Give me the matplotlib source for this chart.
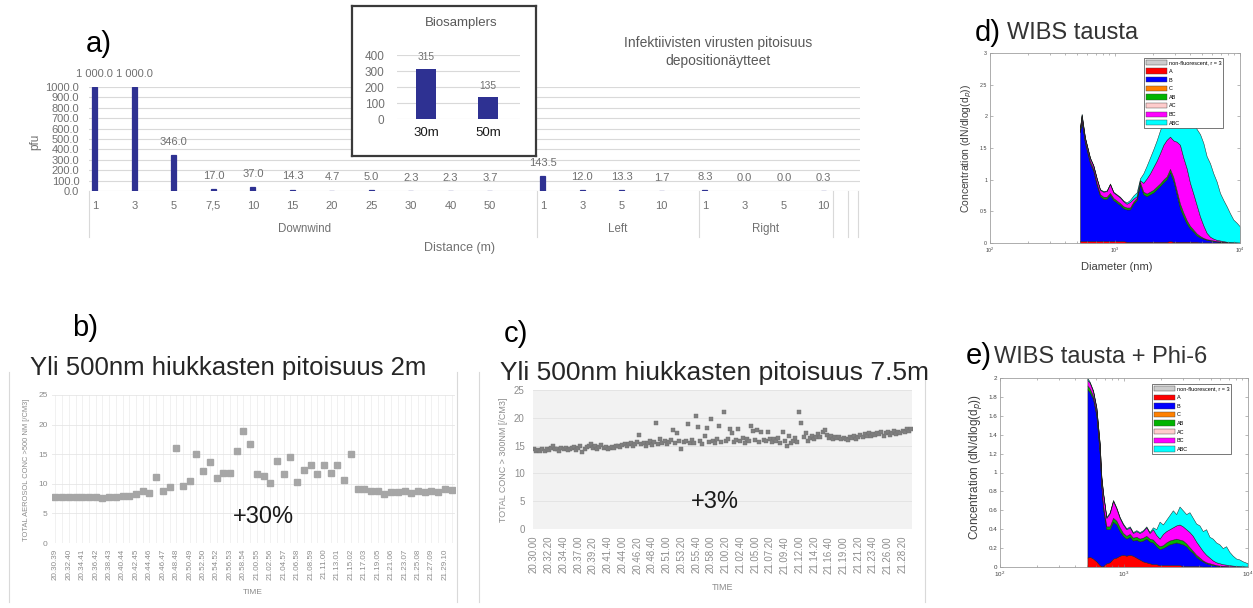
import numpy as np
import matplotlib
matplotlib.use("Agg")
import matplotlib.pyplot as plt
from matplotlib.patches import Patch
from matplotlib.lines import Line2D
import matplotlib.transforms as mtransforms

plt.rcParams['font.family'] = ['Liberation Sans', 'DejaVu Sans']

W, H, DPI = 1253, 608, 100

# ---------------- data: panel a ----------------
a_group_names = ["Downwind", "Left", "Right"]
a_downwind_dist = ["1", "3", "5", "7,5", "10", "15", "20", "25", "30", "40", "50"]
a_downwind_pfu = [1000.0, 1000.0, 346.0, 17.0, 37.0, 14.3, 4.7, 5.0, 2.3, 2.3, 3.7]
a_left_dist = ["1", "3", "5", "10"]
a_left_pfu = [143.5, 12.0, 13.3, 1.7]
a_right_dist = ["1", "3", "5", "10"]
a_right_pfu = [8.3, 0.0, 0.0, 0.3]
a_yticks = list(range(0, 1001, 100))

bio_labels = ["30m", "50m"]
bio_pfu = [315, 135]
bio_yticks = [0, 100, 200, 300, 400]

# ---------------- data: panel b ----------------
b_values = [7.7, 7.7, 7.7, 7.7, 7.7, 7.8, 7.7, 7.6, 7.8, 7.8,
            8.0, 8.0, 8.3, 8.8, 8.4, 11.2, 8.7, 9.4, 16.1, 9.7,
            10.5, 15.0, 12.1, 13.6, 11.0, 11.9, 11.8, 15.6, 19.0, 16.7,
            11.7, 11.3, 10.2, 13.9, 11.7, 14.6, 10.3, 12.3, 13.1, 11.7,
            13.1, 11.8, 13.1, 10.6, 15.0, 9.1, 9.2, 8.7, 8.8, 8.3,
            8.6, 8.6, 8.7, 8.5, 8.8, 8.6, 8.7, 8.6, 9.1, 8.9]
b_tick_labels = ["20.30.39", "20.32.40", "20.34.41", "20.36.42", "20.38.43",
                 "20.40.44", "20.42.45", "20.44.46", "20.46.47", "20.48.48",
                 "20.50.49", "20.52.50", "20.54.52", "20.56.53", "20.58.54",
                 "21.00.55", "21.02.56", "21.04.57", "21.06.58", "21.08.59",
                 "21.11.00", "21.13.01", "21.15.02", "21.17.03", "21.19.05",
                 "21.21.06", "21.23.07", "21.25.08", "21.27.09", "21.29.10"]

# ---------------- data: panel c ----------------
c_values = [14.3, 14.1, 14.2, 14.0, 14.3, 14.1, 14.4, 14.2, 14.5, 15.0, 14.3, 14.4, 14.1, 14.5, 14.3, 14.6, 14.2, 14.4,
            14.5, 14.8, 14.2, 14.6, 14.9, 13.8, 14.4, 14.7, 15.0, 15.2, 14.6, 14.9, 14.3, 14.8, 15.1, 14.5, 14.7, 14.4,
            14.6, 14.8, 14.5, 14.9, 15.0, 14.7, 15.1, 15.3, 14.9, 15.2, 15.5, 15.0, 15.3, 15.6, 16.9, 15.2, 15.5, 15.0,
            15.4, 15.8, 15.1, 15.6, 19.0, 15.3, 16.1, 15.5, 15.9, 15.2, 15.7, 16.0, 17.8, 15.4, 17.3, 15.8, 14.3, 15.6,
            15.9, 18.9, 15.5, 16.0, 15.4, 20.3, 18.3, 15.8, 15.3, 16.8, 18.1, 15.6, 19.8, 15.9, 15.5, 16.1, 18.6, 15.7,
            21.0, 15.8, 16.2, 18.0, 17.2, 15.6, 16.0, 18.0, 15.9, 16.3, 15.5, 16.1, 15.8, 18.6, 17.6, 16.0, 17.8, 15.7,
            17.5, 16.0, 15.8, 17.5, 16.2, 15.6, 16.1, 15.9, 16.3, 15.4, 17.5, 15.8, 15.0, 16.8, 15.5, 15.9, 16.3, 15.7,
            21.0, 19.0, 16.5, 17.3, 15.8, 16.4, 16.8, 16.2, 16.6, 17.1, 16.5, 17.4, 17.8, 16.9, 16.4, 16.7, 16.2, 16.5,
            16.3, 16.6, 16.1, 16.4, 16.2, 16.0, 16.5, 16.3, 16.7, 16.2, 16.6, 16.9, 16.5, 17.0, 16.8, 17.2, 16.7, 17.1,
            16.9, 17.3, 17.0, 17.4, 16.8, 17.2, 17.5, 16.9, 17.3, 17.6, 17.1, 17.5, 17.2, 17.7, 17.4, 17.9, 17.6, 18.0]
c_tick_labels = ["20.30.00", "20.32.20", "20.34.40", "20.37.00", "20.39.20", "20.41.40",
                 "20.44.00", "20.46.20", "20.48.40", "20.51.00", "20.53.20", "20.55.40",
                 "20.58.00", "21.00.20", "21.02.40", "21.05.00", "21.07.20", "21.09.40",
                 "21.12.00", "21.14.20", "21.16.40", "21.19.00", "21.21.20", "21.23.40",
                 "21.26.00", "21.28.20"]

# ---------------- data: panels d, e (cumulative stacked tops) ----------------
wibs_labels = ["non-fluorescent, r = 3", "A", "B", "C", "AB", "AC", "BC", "ABC"]

d_diam = [525, 541, 575, 631, 671, 713, 759, 807, 858, 912, 970, 1031, 1096, 1166,
          1239, 1318, 1401, 1490, 1585, 1685, 1791, 1905, 2025, 2154, 2291, 2436,
          2590, 2754, 2929, 3114, 3311, 3521, 3744, 3981, 4233, 4501, 4786, 5090,
          5412, 5754, 6119, 6506, 6918, 7356, 7822, 8318, 8844, 9404, 10000]
d_top_A = [.03, .03, .03, .03, .03, .03, .03, .03, .03, .03, .03, .03, .03, .03,
           .02, .02, .02, .02, .02, .02, .02, .02, .02, .02, .02, .02, .02,
           .03, .02, .02, .02, .02, .02, .02, .02, .02,
           .01, .01, .01, .01, .01, .01, .01, .01, .01, .005, .005, .005, .005]
d_top_B = [1.75, 1.92, 1.58, 1.26, 1.14, 0.92, 0.74, 0.70, 0.70, 0.76, 0.68, 0.64, 0.60, 0.55,
           0.53, 0.53, 0.62, 0.68, 0.92, 0.77, 0.74, 0.77, 0.80, 0.85, 0.90, 0.96, 1.01, 1.12,
           0.98, 0.77, 0.55, 0.42, 0.31, 0.23, 0.18, 0.12, 0.09, 0.07, 0.05, 0.04, 0.03, 0.025,
           0.02, 0.015, 0.01, 0.01, 0.008, 0.006, 0.005]
d_top_AB = [1.78, 1.96, 1.61, 1.29, 1.17, 0.95, 0.77, 0.73, 0.73, 0.79, 0.71, 0.67, 0.63, 0.58,
            0.56, 0.56, 0.65, 0.71, 0.96, 0.81, 0.78, 0.81, 0.84, 0.89, 0.94, 1.00, 1.05, 1.17,
            1.04, 0.83, 0.62, 0.48, 0.36, 0.27, 0.21, 0.15, 0.11, 0.08, 0.06, 0.05, 0.04, 0.03,
            0.025, 0.02, 0.015, 0.012, 0.01, 0.008, 0.006]
d_top_BC = [1.82, 2.02, 1.66, 1.34, 1.22, 1.02, 0.84, 0.81, 0.82, 0.93, 0.80, 0.76, 0.72, 0.66,
            0.62, 0.65, 0.70, 0.74, 0.99, 0.95, 1.02, 1.10, 1.20, 1.30, 1.42, 1.55, 1.63, 1.68,
            1.62, 1.60, 1.55, 1.35, 1.18, 0.95, 0.78, 0.60, 0.42, 0.28, 0.16, 0.10, 0.07, 0.05,
            0.04, 0.03, 0.02, 0.015, 0.012, 0.01, 0.008]
d_top_ABC = [1.83, 2.04, 1.67, 1.35, 1.23, 1.03, 0.85, 0.82, 0.83, 0.94, 0.81, 0.77, 0.73, 0.67,
             0.64, 0.68, 0.75, 0.80, 1.02, 1.10, 1.22, 1.35, 1.48, 1.62, 1.78, 1.92, 2.05, 2.15,
             2.20, 2.25, 2.22, 2.12, 2.02, 1.95, 1.88, 1.80, 1.72, 1.58, 1.37, 1.26, 1.10, 0.97,
             0.79, 0.68, 0.58, 0.47, 0.37, 0.32, 0.26]

e_diam = [507, 529, 563, 599, 637, 657, 678, 721, 767, 816, 868, 923, 982, 1045, 1112, 1181,
          1257, 1337, 1422, 1513, 1608, 1711, 1820, 1936, 2060, 2190, 2330, 2478, 2636, 2804,
          2983, 3172, 3374, 3589, 3818, 4062, 4320, 4595, 4888, 5200, 5531, 5883, 6258, 6657,
          7081, 7532, 8012, 8523, 9066, 9934]
e_top_A = [.10, .11, .09, .06, .02, .01, .01,
           .04, .05, .09, .10, .12, .13, .12, .13, .12, .10, .08, .06, .05, .04, .03, .03, .02,
           .02, .02, .02, .02, .02, .02,
           .01, .01, .01, .01, .01, .01,
           .005, .005, .005,
           0, 0, 0, 0, 0, 0, 0, 0, 0, 0, 0]
e_top_B = [1.88, 1.85, 1.78, 1.60, 1.20, 0.85, 0.62, 0.40, 0.40, 0.48, 0.45, 0.38, 0.33, 0.30,
           0.32, 0.28, 0.29, 0.27, 0.28, 0.30, 0.27, 0.26, 0.22, 0.19, 0.20, 0.22, 0.24, 0.25,
           0.26, 0.25, 0.24, 0.22, 0.18, 0.15, 0.11, 0.08, 0.06, 0.04, 0.03, 0.02, 0.015, 0.01,
           0.008, 0.006, 0.005, 0.004, 0.003, 0.002, 0.002, 0.001]
e_top_AB = [1.92, 1.89, 1.81, 1.63, 1.23, 0.88, 0.65, 0.43, 0.43, 0.52, 0.49, 0.42, 0.36, 0.33,
            0.35, 0.31, 0.32, 0.30, 0.31, 0.33, 0.30, 0.29, 0.25, 0.22, 0.23, 0.26, 0.28, 0.29,
            0.30, 0.29, 0.28, 0.25, 0.21, 0.17, 0.13, 0.10, 0.07, 0.05, 0.04, 0.03, 0.02, 0.015,
            0.012, 0.01, 0.008, 0.006, 0.005, 0.004, 0.003, 0.002]
e_top_BC = [1.98, 1.95, 1.86, 1.68, 1.30, 0.95, 0.78, 0.52, 0.57, 0.70, 0.62, 0.52, 0.45, 0.40,
            0.42, 0.36, 0.38, 0.36, 0.38, 0.42, 0.36, 0.40, 0.34, 0.30, 0.35, 0.38, 0.40, 0.42,
            0.44, 0.45, 0.43, 0.40, 0.37, 0.33, 0.27, 0.22, 0.17, 0.13, 0.10, 0.07, 0.05, 0.04,
            0.03, 0.025, 0.02, 0.015, 0.012, 0.01, 0.008, 0.005]
e_top_ABC = [2.00, 1.96, 1.87, 1.69, 1.31, 0.96, 0.79, 0.53, 0.58, 0.71, 0.63, 0.53, 0.46, 0.41,
             0.43, 0.37, 0.39, 0.37, 0.39, 0.43, 0.37, 0.42, 0.40, 0.48, 0.45, 0.50, 0.55, 0.60,
             0.56, 0.64, 0.60, 0.56, 0.58, 0.52, 0.46, 0.44, 0.38, 0.40, 0.32, 0.30, 0.26, 0.24,
             0.20, 0.22, 0.16, 0.12, 0.09, 0.08, 0.06, 0.04]

# ---------------- styles ----------------
BAR = '#2E3192'
GRID = '#D9D9D9'
TXT = '#707070'
wibs_colors = ['#CCCCCC', '#FF0000', '#0000FF', '#FF8000', '#00B400', '#FFCCCC', '#FF00FF', '#00FFFF']

fig = plt.figure(figsize=(W / DPI, H / DPI), dpi=DPI)
fig.patch.set_facecolor('white')


def px_axes(x0, y0, x1, y1, **kw):
    return fig.add_axes([x0 / W, 1 - y1 / H, (x1 - x0) / W, (y1 - y0) / H], **kw)


def ftext(x, y, s, **kw):
    kw.setdefault('ha', 'center')
    kw.setdefault('va', 'center')
    return fig.text(x / W, 1 - y / H, s, **kw)


def fvline(x, y0, y1, color='#D9D9D9', lw=0.8):
    fig.add_artist(Line2D([x / W, x / W], [1 - y0 / H, 1 - y1 / H], color=color, lw=lw))


# ================= panel a =================
ax = px_axes(89, 87, 860, 191)
n_dw, n_l, n_r = len(a_downwind_pfu), len(a_left_pfu), len(a_right_pfu)
bar_off = 0.15
left_start = n_dw + 0.34
right_start = left_start + n_l + 0.10
x_dw = np.arange(n_dw) + bar_off
x_l = left_start + bar_off + np.arange(n_l)
x_r = right_start + bar_off + np.arange(n_r)
xs = np.concatenate([x_dw, x_l, x_r])
vals = a_downwind_pfu + a_left_pfu + a_right_pfu
labels = a_downwind_dist + a_left_dist + a_right_dist
ax.bar(xs, vals, width=0.13, color=BAR, zorder=3,
       edgecolor=[BAR if v > 0 else 'none' for v in vals], linewidth=0.9)
ax.set_xlim(0, 19.52)
ax.set_ylim(0, 1000)
ax.set_yticks(a_yticks, [f"{v:.1f}" for v in a_yticks])
ax.set_xticks(xs, labels)
ax.tick_params(axis='x', length=0, pad=7, labelsize=8, labelcolor=TXT)
ax.tick_params(axis='y', length=0, pad=7, labelsize=8, labelcolor=TXT)
ax.yaxis.grid(True, color=GRID, lw=0.8)
ax.set_axisbelow(True)
for s in ax.spines.values():
    s.set_visible(False)
for x, v in zip(xs, vals):
    lab = f"{v:,.1f}".replace(",", " ")
    ax.annotate(lab, (x, v), xytext=(0, 9.4), textcoords='offset points', ha='center',
                va='center', fontsize=8, color=TXT, annotation_clip=False)
trans = mtransforms.blended_transform_factory(ax.transData, ax.transAxes)
for sx in [0, left_start, right_start, right_start + 3.4, right_start + 3.78, right_start + 4.03]:
    ax.plot([sx, sx], [0, -0.44], transform=trans, color=GRID, lw=0.8, clip_on=False)
group_bounds = [(0, left_start), (left_start, right_start), (right_start, right_start + 3.4)]
for name, (g0, g1) in zip(a_group_names, group_bounds):
    ax.text((g0 + g1) / 2 - (0.2 if name == "Downwind" else 0), -0.37, name, transform=trans,
            ha='center', va='center', fontsize=8.3, color=TXT)
ftext(460, 248, "Distance (m)", fontsize=9, color=TXT)
ftext(35, 142, "pfu", fontsize=8.5, color=TXT, rotation=90)
ftext(718, 52, "Infektiivisten virusten pitoisuus\ndepositionäytteet", fontsize=10,
      color='#595959', linespacing=1.3)
ftext(99, 44, "a)", fontsize=21, color='black')

# inset
box = px_axes(352, 6, 536, 156)
box.set_zorder(5)
box.set_xticks([])
box.set_yticks([])
for s in box.spines.values():
    s.set_color('#3A3A3A')
    s.set_linewidth(1.6)
ins = px_axes(397, 55, 520, 119)
ins.set_zorder(6)
ins.patch.set_alpha(0)
ins.bar(range(len(bio_pfu)), bio_pfu, width=0.32, color=BAR, zorder=3)
ins.set_xlim(-0.47, 1.52)
ins.set_ylim(0, 400)
ins.set_yticks(bio_yticks)
ins.set_xticks(range(len(bio_labels)), bio_labels)
ins.tick_params(axis='y', length=0, pad=9, labelsize=8.5, labelcolor=TXT)
ins.tick_params(axis='x', length=0, pad=6, labelsize=9.5, labelcolor='#1A1A1A')
ins.yaxis.grid(True, color=GRID, lw=0.8)
ins.set_axisbelow(True)
for s in ins.spines.values():
    s.set_visible(False)
for i, v in enumerate(bio_pfu):
    ins.annotate(str(v), (i, v), xytext=(0, 8.5), textcoords='offset points', ha='center',
                 va='center', fontsize=7.3, color=TXT)
ftext(461, 23, "Biosamplers", fontsize=9.5, color='#595959', zorder=7)

# ================= panel b =================
axb = px_axes(52, 395, 455, 543)
xb = np.arange(len(b_values))
axb.plot(xb, b_values, 's', ms=4.6, color='#A6A6A6', mec='#A6A6A6', zorder=3)
axb.set_xlim(-0.5, len(b_values) - 0.5)
axb.set_ylim(0, 25)
axb.set_yticks(range(0, 26, 5))
axb.set_xticks(xb[::2], b_tick_labels, rotation=90)
axb.set_xticks(xb, minor=True)
axb.grid(True, which='both', axis='x', color='#EFEFEF', lw=0.6)
axb.grid(True, axis='y', color='#E6E6E6', lw=0.6)
axb.set_axisbelow(True)
axb.tick_params(axis='both', which='both', length=0)
axb.tick_params(axis='x', pad=4, labelsize=5.8, labelcolor='#8C8C8C')
axb.tick_params(axis='y', pad=3, labelsize=6, labelcolor='#8C8C8C')
for s in axb.spines.values():
    s.set_visible(False)
ftext(27, 470, "TOTAL AEROSOL CONC >500 NM [/CM3]", fontsize=5.4, color='#8C8C8C', rotation=90)
ftext(253, 592, "TIME", fontsize=6, color='#8C8C8C')
ftext(263, 517, "+30%", fontsize=17, color='#1A1A1A')
ftext(228, 368, "Yli 500nm hiukkasten pitoisuus 2m", fontsize=18.5, color='#262626')
ftext(85, 328, "b)", fontsize=21, color='black')
fvline(9, 372, 602)
fvline(457, 372, 602)

# ================= panel c =================
axc = px_axes(533, 390, 912, 529)
axc.set_facecolor('#F2F2F2')
xc = np.arange(len(c_values))
axc.plot(xc, c_values, 's', ms=3.1, color='#808080', mec='#6E6E6E', mew=0.3, zorder=3)
axc.set_xlim(-0.5, len(c_values) - 0.5)
axc.set_ylim(0, 25)
axc.set_yticks(range(0, 26, 5))
axc.set_xticks(xc[::7], c_tick_labels, rotation=90)
axc.grid(True, axis='y', color='#E2E2E2', lw=0.6)
axc.set_axisbelow(True)
axc.tick_params(axis='both', length=0)
axc.tick_params(axis='x', pad=5, labelsize=7, labelcolor='#8C8C8C')
axc.tick_params(axis='y', pad=6, labelsize=7, labelcolor='#8C8C8C')
for s in axc.spines.values():
    s.set_visible(False)
ftext(503, 460, "TOTAL CONC > 300NM [/CM3]", fontsize=6.4, color='#8C8C8C', rotation=90)
ftext(723, 588, "TIME", fontsize=6.5, color='#8C8C8C')
ftext(715, 502, "+3%", fontsize=17, color='#1A1A1A')
ftext(715, 373, "Yli 500nm hiukkasten pitoisuus 7.5m", fontsize=19, color='#262626')
ftext(516, 334, "c)", fontsize=21, color='black')
fvline(479, 372, 602)
fvline(925, 372, 602)


# ================= panels d, e =================
def wibs_panel(axw, diam, tops, ymax, yticks, ylabels, legend_anchor, tick_fs):
    lower = np.zeros(len(diam))
    fill_colors = [wibs_colors[1], wibs_colors[2], wibs_colors[4], wibs_colors[6], wibs_colors[7]]
    for top, col in zip(tops, fill_colors):
        top = np.asarray(top, dtype=float)
        axw.fill_between(diam, lower, top, facecolor=col, edgecolor='#202020', linewidth=0.35)
        lower = top
    axw.set_xscale('log')
    axw.set_xlim(100, 10000)
    axw.set_ylim(0, ymax)
    axw.set_yticks(yticks, ylabels)
    axw.tick_params(axis='both', which='both', direction='in', labelsize=tick_fs,
                    labelcolor='#404040', color='#808080', width=0.4)
    axw.tick_params(axis='both', which='major', length=2.5, pad=2)
    axw.tick_params(axis='both', which='minor', length=1.2)
    axw.tick_params(top=True, right=True, which='both')
    for s in axw.spines.values():
        s.set_color('#A0A0A0')
        s.set_linewidth(0.6)
    handles = [Patch(facecolor=c, edgecolor='#404040', linewidth=0.3) for c in wibs_colors]
    leg = axw.legend(handles, wibs_labels, loc='upper left', bbox_to_anchor=legend_anchor,
                     fontsize=4, handlelength=3.8, handleheight=1.1, labelspacing=0.55,
                     borderpad=0.35, handletextpad=0.3, borderaxespad=0, frameon=True,
                     fancybox=False, framealpha=1, edgecolor='#404040')
    leg.get_frame().set_linewidth(0.5)


axd = px_axes(990, 53, 1240, 243)
wibs_panel(axd, d_diam, [d_top_A, d_top_B, d_top_AB, d_top_BC, d_top_ABC], 3,
           [0, 0.5, 1, 1.5, 2, 2.5, 3], ['0', '0.5', '1', '1.5', '2', '2.5', '3'],
           (0.616, 0.974), 3.8)
ftext(967, 148, "Concentration (dN/dlog(d$_p$))", fontsize=7.5, color='#404040', rotation=90)
ftext(1117, 267, "Diameter (nm)", fontsize=8, color='#404040')
ftext(988, 33, "d)", fontsize=21, color='black')
ftext(1007, 33, "WIBS tausta", fontsize=17, color='#333333', ha='left')

axe = px_axes(1000, 378, 1248, 567)
e_ticks = [0, 0.2, 0.4, 0.6, 0.8, 1, 1.2, 1.4, 1.6, 1.8, 2]
wibs_panel(axe, e_diam, [e_top_A, e_top_B, e_top_AB, e_top_BC, e_top_ABC], 2,
           e_ticks, [f"{t:g}" for t in e_ticks], (0.613, 0.968), 4.5)
ftext(975, 467, "Concentration (dN/dlog(d$_p$))", fontsize=8.5, color='#404040', rotation=90)
ftext(979, 356, "e)", fontsize=21, color='black')
ftext(994, 357, "WIBS tausta + Phi-6", fontsize=17, color='#333333', ha='left')

fig.savefig('out.png', dpi=DPI)
